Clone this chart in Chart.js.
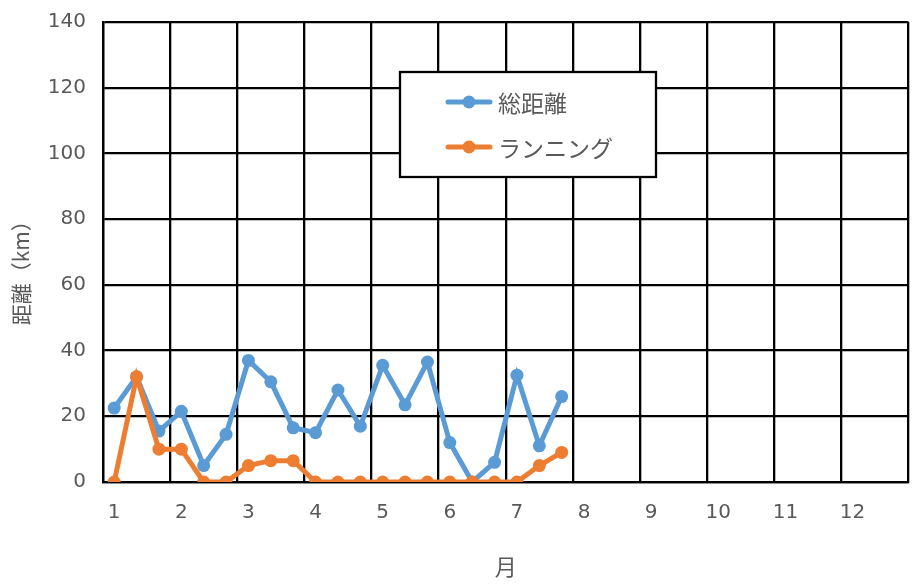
<!DOCTYPE html>
<html><head><meta charset="utf-8">
<script src="https://cdn.jsdelivr.net/npm/chart.js@4.4.0/dist/chart.umd.min.js"></script>
<style>html,body{margin:0;padding:0;background:#fff;}</style>
</head><body>
<canvas id="c" width="915" height="588"></canvas>
<script>
const months = ['1','2','3','4','5','6','7','8','9','10','11','12'];
const periodsPerMonth = 3;
const seriesNames = ['総距離', 'ランニング'];
const totalDistance = [22.5, 32, 15.5, 21.5, 5, 14.5, 37, 30.5, 16.5, 15, 28, 17, 35.5, 23.5, 36.5, 12, 0, 6, 32.5, 11, 26];
const running = [0, 32, 10, 10, 0, 0, 5, 6.5, 6.5, 0, 0, 0, 0, 0, 0, 0, 0, 0, 0, 5, 9];
const yMin = 0, yMax = 140, yStep = 20;
const xTitle = '月';
const yTitle = '距離（km）';

const labels = months.flatMap(m => [m, ...Array(periodsPerMonth - 1).fill('')]);
const TEXT = '#595959';
const BLUE = '#5B9BD5', ORANGE = '#ED7D31';
const TICK_FONT = { family: '"DejaVu Sans", "Noto Sans CJK JP"', size: 20 };

const boxLegend = {
  id: 'boxLegend',
  afterDatasetsDraw(chart) {
    const ctx = chart.ctx;
    ctx.save();
    ctx.fillStyle = '#fff';
    ctx.fillRect(400, 72, 256, 105);
    ctx.lineWidth = 2.3; ctx.strokeStyle = '#000';
    ctx.strokeRect(400, 72, 256, 105);
    chart.data.datasets.forEach((ds, i) => {
      const y = 102 + i * 45;
      ctx.strokeStyle = ds.borderColor; ctx.lineWidth = 5; ctx.lineCap = 'round';
      ctx.beginPath(); ctx.moveTo(448, y); ctx.lineTo(490, y); ctx.stroke();
      ctx.fillStyle = ds.pointBackgroundColor;
      ctx.beginPath(); ctx.arc(469, y, 6.5, 0, Math.PI * 2); ctx.fill();
      ctx.fillStyle = TEXT;
      ctx.font = '23px "Noto Sans CJK JP"';
      ctx.textBaseline = 'middle'; ctx.textAlign = 'left';
      ctx.fillText(ds.label, 498, y + 1);
    });
    ctx.restore();
  }
};

new Chart(document.getElementById('c'), {
  type: 'line',
  data: {
    labels: labels,
    datasets: [
      { label: seriesNames[0], data: totalDistance, borderColor: BLUE, backgroundColor: BLUE,
        pointBackgroundColor: BLUE, pointBorderWidth: 0, pointRadius: 6.5, borderWidth: 5, tension: 0, order: 1 },
      { label: seriesNames[1], data: running, borderColor: ORANGE, backgroundColor: ORANGE,
        pointBackgroundColor: ORANGE, pointBorderWidth: 0, pointRadius: 6.5, borderWidth: 5, tension: 0, order: 0 }
    ]
  },
  options: {
    responsive: false,
    animation: false,
    events: [],
    layout: { padding: { left: 0, top: 22, right: 5, bottom: 0 } },
    plugins: { legend: { display: false }, tooltip: { enabled: false } },
    scales: {
      x: {
        type: 'category',
        offset: true,
        grid: {
          offset: true,
          drawTicks: false,
          lineWidth: 2.3,
          color: (c) => (c.type !== 'tick' || c.index % periodsPerMonth === 0) ? '#000' : 'rgba(0,0,0,0)'
        },
        border: { color: '#000', width: 2.3 },
        ticks: { autoSkip: false, maxRotation: 0, minRotation: 0, padding: 19,
          color: TEXT, font: TICK_FONT },
        title: { display: true, text: xTitle, color: TEXT, padding: { top: 4, bottom: 8 },
          font: { family: '"Noto Sans CJK JP"', size: 22 } },
        afterFit: (s) => { s.height = 106; s.paddingLeft = 0; s.paddingRight = 0; }
      },
      y: {
        min: yMin, max: yMax,
        grid: { drawTicks: false, lineWidth: 2.3, color: '#000' },
        border: { color: '#000', width: 2.3 },
        ticks: { stepSize: yStep, padding: 17, color: TEXT, font: TICK_FONT },
        title: { display: true, text: yTitle + '\u3000\u3000', color: TEXT, padding: { top: 8, bottom: 0 },
          font: { family: '"Noto Sans CJK JP"', size: 21 } },
        afterFit: (s) => { s.width = 103; s.paddingTop = 0; s.paddingBottom = 0; }
      }
    }
  },
  plugins: [boxLegend]
});
</script>
</body></html>
